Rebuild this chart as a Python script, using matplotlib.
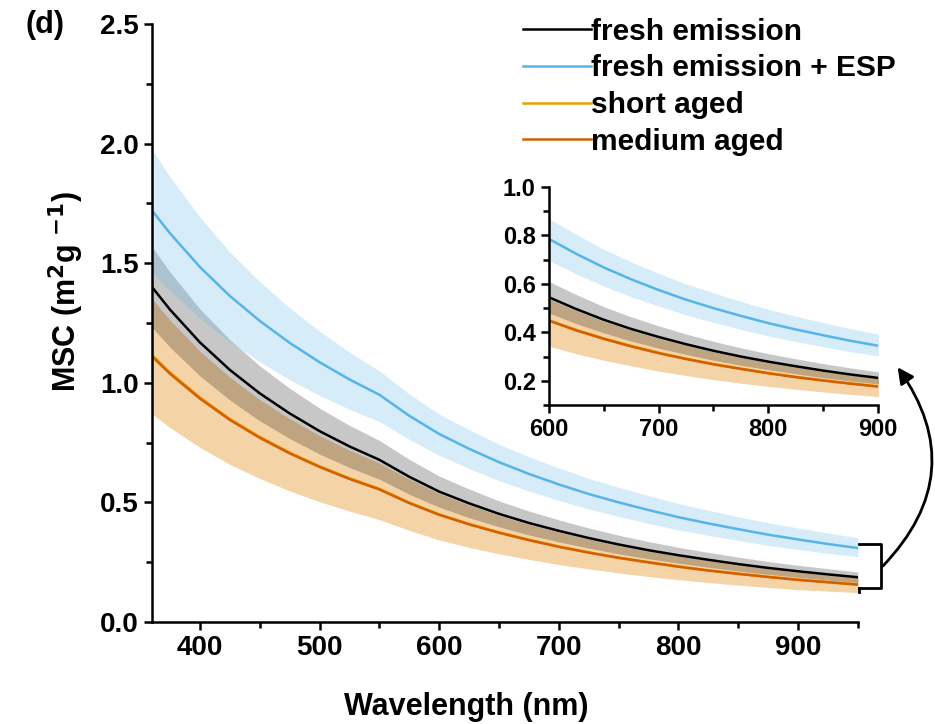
import matplotlib
matplotlib.use("Agg")
import matplotlib.pyplot as plt
from matplotlib.patches import FancyArrowPatch
from matplotlib.lines import Line2D
from matplotlib.ticker import MultipleLocator

plt.rcParams['font.family'] = ['Liberation Sans', 'DejaVu Sans']
plt.rcParams['font.weight'] = 'bold'
plt.rcParams['axes.labelweight'] = 'bold'
plt.rcParams['mathtext.default'] = 'bf'

# wavelength grid (nm)
wavelength = [360, 375, 400, 425, 450, 475, 500, 525, 550, 575, 600, 625, 650,
              675, 700, 725, 750, 775, 800, 825, 850, 875, 900, 925, 950]

# fresh emission
fresh = [1.40, 1.306, 1.169, 1.054, 0.956, 0.872, 0.798, 0.734, 0.678, 0.607, 0.545, 0.496, 0.452,
         0.414, 0.381, 0.351, 0.324, 0.300, 0.279, 0.260, 0.242, 0.226, 0.212, 0.199, 0.187]
fresh_hi = [1.568, 1.463, 1.309, 1.180, 1.071, 0.977, 0.894, 0.822, 0.759, 0.680, 0.610, 0.556, 0.506,
            0.464, 0.427, 0.393, 0.363, 0.336, 0.312, 0.291, 0.271, 0.253, 0.237, 0.223, 0.209]
fresh_lo = [1.232, 1.149, 1.029, 0.928, 0.841, 0.767, 0.702, 0.646, 0.597, 0.534, 0.480, 0.436, 0.398,
            0.364, 0.335, 0.309, 0.285, 0.264, 0.246, 0.229, 0.213, 0.199, 0.187, 0.175, 0.165]

# fresh emission + ESP
esp = [1.72, 1.625, 1.484, 1.363, 1.259, 1.167, 1.086, 1.014, 0.950, 0.862, 0.786, 0.724, 0.668,
       0.619, 0.575, 0.535, 0.500, 0.468, 0.438, 0.412, 0.388, 0.365, 0.345, 0.326, 0.309]
esp_hi = [1.975, 1.861, 1.692, 1.547, 1.423, 1.313, 1.216, 1.128, 1.050, 0.953, 0.869, 0.804, 0.743,
          0.691, 0.644, 0.600, 0.563, 0.528, 0.495, 0.467, 0.440, 0.415, 0.393, 0.372, 0.352]
esp_lo = [1.462, 1.385, 1.270, 1.172, 1.088, 1.013, 0.947, 0.889, 0.838, 0.763, 0.697, 0.641, 0.591,
          0.547, 0.508, 0.472, 0.441, 0.412, 0.385, 0.362, 0.341, 0.320, 0.303, 0.287, 0.273]

# short aged
short = [1.116, 1.043, 0.939, 0.849, 0.774, 0.708, 0.651, 0.601, 0.557, 0.499, 0.450, 0.410, 0.375,
         0.344, 0.316, 0.291, 0.269, 0.250, 0.232, 0.216, 0.202, 0.189, 0.177, 0.167, 0.157]
short_hi = [1.351, 1.262, 1.132, 1.023, 0.930, 0.850, 0.779, 0.718, 0.664, 0.597, 0.537, 0.489, 0.445,
            0.408, 0.375, 0.346, 0.319, 0.296, 0.275, 0.256, 0.238, 0.223, 0.209, 0.196, 0.184]
short_lo = [0.977, 0.913, 0.822, 0.744, 0.678, 0.620, 0.570, 0.526, 0.488, 0.437, 0.394, 0.359, 0.328,
            0.301, 0.276, 0.255, 0.236, 0.219, 0.203, 0.189, 0.177, 0.165, 0.155, 0.146, 0.137]

# medium aged
medium = [1.11, 1.038, 0.934, 0.845, 0.770, 0.705, 0.648, 0.598, 0.554, 0.497, 0.448, 0.408, 0.373,
          0.342, 0.314, 0.290, 0.268, 0.249, 0.231, 0.215, 0.201, 0.188, 0.176, 0.166, 0.156]
medium_hi = [1.221, 1.142, 1.027, 0.930, 0.847, 0.776, 0.713, 0.658, 0.609, 0.547, 0.493, 0.449, 0.410,
             0.376, 0.345, 0.319, 0.295, 0.274, 0.254, 0.237, 0.221, 0.207, 0.194, 0.183, 0.172]
medium_lo = [0.870, 0.813, 0.730, 0.659, 0.600, 0.548, 0.503, 0.464, 0.428, 0.383, 0.343, 0.312, 0.285,
             0.262, 0.240, 0.222, 0.205, 0.190, 0.177, 0.165, 0.154, 0.144, 0.135, 0.129, 0.123]

c_black = '#000000'
c_blue = '#56B4E9'
c_short = '#E69F00'
c_medium = '#D55E00'
c_orange_fill = '#F4D3A6'


def draw_curves(ax):
    ax.fill_between(wavelength, short_lo, short_hi, color=c_orange_fill, lw=0)
    ax.fill_between(wavelength, medium_lo, medium_hi, color=c_orange_fill, lw=0)
    ax.fill_between(wavelength, fresh_lo, fresh_hi, color='black', alpha=0.22, lw=0)
    ax.fill_between(wavelength, esp_lo, esp_hi, color=c_blue, alpha=0.24, lw=0)
    l3, = ax.plot(wavelength, short, color=c_short, lw=1.8, label='short aged')
    l4, = ax.plot(wavelength, medium, color=c_medium, lw=1.8, label='medium aged')
    l1, = ax.plot(wavelength, fresh, color=c_black, lw=1.8, label='fresh emission')
    l2, = ax.plot(wavelength, esp, color=c_blue, lw=1.8, label='fresh emission + ESP')
    return [l1, l2, l3, l4]


def style_axes(ax, size, major_len, minor_len):
    for s in ['top', 'right']:
        ax.spines[s].set_visible(False)
    for s in ['left', 'bottom']:
        ax.spines[s].set_linewidth(1.8)
    ax.tick_params(which='major', direction='out', length=major_len, width=1.8, labelsize=size)
    ax.tick_params(which='minor', direction='out', length=minor_len, width=1.8)


fig = plt.figure(figsize=(9.35, 7.24), dpi=100)

# main panel
ax = fig.add_axes([0.1626, 0.1409, 0.7550, 0.8260])
handles = draw_curves(ax)
ax.set_xlim(360, 950)
ax.set_ylim(0, 2.5)
ax.xaxis.set_major_locator(MultipleLocator(100))
ax.xaxis.set_minor_locator(MultipleLocator(50))
ax.yaxis.set_major_locator(MultipleLocator(0.5))
ax.yaxis.set_minor_locator(MultipleLocator(0.25))
ax.yaxis.set_major_formatter(plt.FormatStrFormatter('%.1f'))
style_axes(ax, 20, 6, 4)
ax.set_xlabel('Wavelength (nm)', fontsize=22, fontweight='bold')
ax.set_ylabel('MSC (m$^{2}$g $^{-1}$)', fontsize=22, fontweight='bold')
ax.xaxis.set_label_coords(0.445, -0.117)
ax.yaxis.set_label_coords(-0.094, 0.552)

fig.legend(handles=handles, loc='upper left', bbox_to_anchor=(0.543, 0.996),
           frameon=False, handlelength=2.3, handletextpad=0.0,
           labelspacing=0.29, borderpad=0, prop={'weight': 'bold', 'size': 21.5})

fig.text(0.027, 0.965, '(d)', fontsize=22, fontweight='bold', va='center')

# inset
axin = fig.add_axes([0.587, 0.4406, 0.352, 0.3011])
draw_curves(axin)
axin.set_xlim(600, 900)
axin.set_ylim(0.1, 1.0)
axin.xaxis.set_major_locator(MultipleLocator(100))
axin.xaxis.set_minor_locator(MultipleLocator(50))
axin.yaxis.set_major_locator(MultipleLocator(0.2))
axin.yaxis.set_minor_locator(MultipleLocator(0.1))
axin.yaxis.set_major_formatter(plt.FormatStrFormatter('%.1f'))
style_axes(axin, 17, 6, 4)

# bracket and curved arrow pointing to the inset
bx0, bx1 = 859 / 935, 881 / 935
by0, by1 = 1 - 544 / 724, 1 - 588 / 724
fig.add_artist(Line2D([bx0, bx1, bx1, bx0], [by0, by0, by1, by1],
                      transform=fig.transFigure, color='black', lw=2))
fig.add_artist(Line2D([bx0, bx0], [by1, by1 - 4 / 724],
                      transform=fig.transFigure, color='black', lw=2))
arrow = FancyArrowPatch((bx1, 1 - 568 / 724), (896 / 935, 1 - 365 / 724),
                        transform=fig.transFigure, connectionstyle='arc3,rad=0.42',
                        arrowstyle='-|>', mutation_scale=24, color='black', lw=2)
fig.add_artist(arrow)

fig.savefig('out.png', dpi=100)
